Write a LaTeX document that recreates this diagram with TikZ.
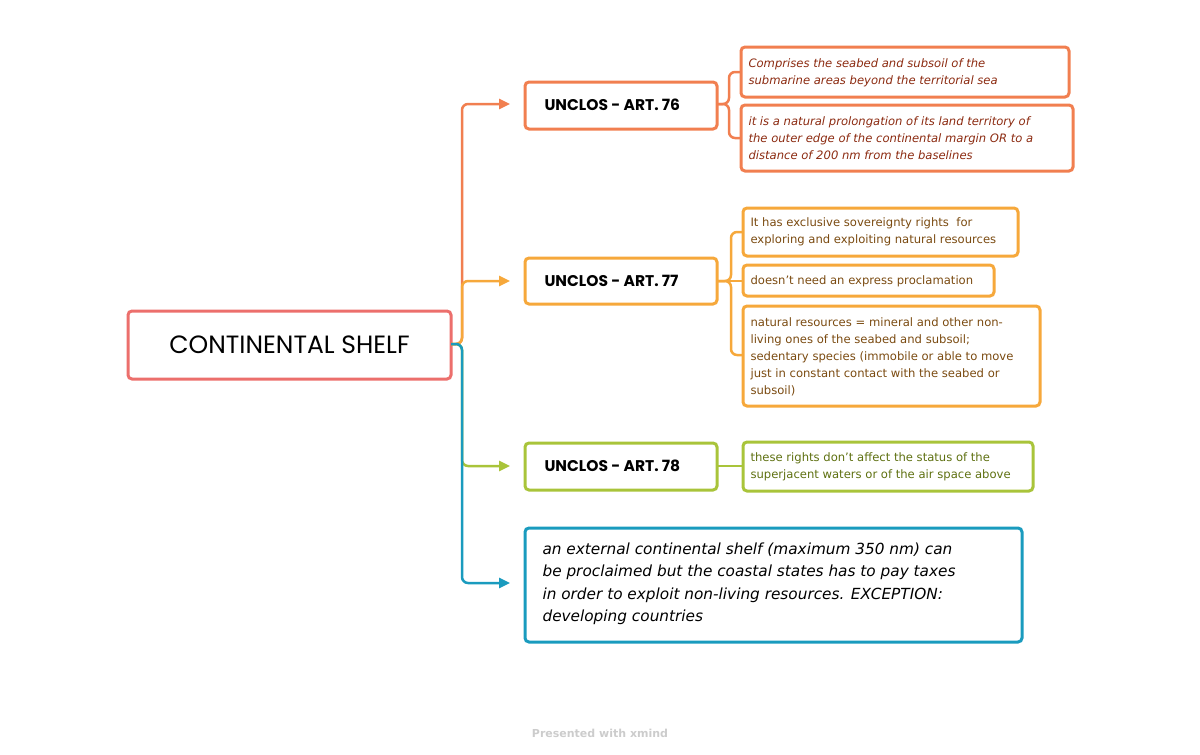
\documentclass[tikz,border=0pt]{standalone}
\usepackage{fontspec}
\setmainfont{DejaVu Sans}
\newfontfamily\headf{Poppins}
\usetikzlibrary{arrows.meta}
\definecolor{cR}{HTML}{EC6F6C}
\definecolor{cO}{HTML}{F17F50}
\definecolor{cY}{HTML}{F6A83B}
\definecolor{cG}{HTML}{A9C43A}
\definecolor{cB}{HTML}{1A9BBE}
\definecolor{tR}{HTML}{8B2A10}
\definecolor{tY}{HTML}{7A4A10}
\definecolor{tG}{HTML}{5E7010}
\tikzset{
 bx/.style={draw,line width=3pt,rounded corners=4pt,inner sep=0pt},
 lab/.style={anchor=north west,align=left,font=\fontsize{11.6}{17}\selectfont},
 ln/.style={line width=2.5pt,rounded corners=6pt,-{Triangle[length=11pt,width=10pt]}},
 sl/.style={line width=2.5pt,rounded corners=6pt},
 hd/.style={anchor=west,font=\headf\bfseries\fontsize{15.5}{17}\selectfont}
}
\begin{document}
\begin{tikzpicture}[x=1pt,y=-1pt]
\useasboundingbox (0,0) rectangle (1200,755);
% boxes
\draw[bx,cR] (128,311) rectangle (451,379);
\node (root) at (289.5,345) {\headf\fontsize{25}{28}\selectfont CONTINENTAL SHELF};
\coordinate (rootE) at (451,344);
\draw[bx,cO] (525,82) rectangle (717,129);
\node[hd] (a76) at (541,105) {UNCLOS - ART. 76};
\draw[bx,cY] (525,258) rectangle (717,304);
\node[hd] (a77) at (541,281) {UNCLOS - ART. 77};
\draw[bx,cG] (525,443) rectangle (717,490);
\node[hd] (a78) at (541,466) {UNCLOS - ART. 78};
\draw[bx,cB] (525,528) rectangle (1022,642);
\node[anchor=north west,align=left,font=\itshape\fontsize{15.3}{22.5}\selectfont] (ext) at (539,539) {an external continental shelf (maximum 350 nm) can\\be proclaimed but the coastal states has to pay taxes\\in order to exploit non-living resources. EXCEPTION:\\developing countries};
% 76 children
\draw[bx,cO] (741,47) rectangle (1069,97);
\node[lab,text=tR,font=\itshape\fontsize{11.6}{17}\selectfont] (c1) at (745,55) {Comprises the seabed and subsoil of the\\submarine areas beyond the territorial sea};
\draw[bx,cO] (741,105) rectangle (1073,171);
\node[lab,text=tR,font=\itshape\fontsize{11.6}{17}\selectfont] (c2) at (745,113) {it is a natural prolongation of its land territory of\\the outer edge of the continental margin OR to a\\distance of 200 nm from the baselines};
% 77 children
\draw[bx,cY] (743,208) rectangle (1018,256);
\node[lab,text=tY] (c3) at (747,214) {It has exclusive sovereignty rights~ for\\exploring and exploiting natural resources};
\draw[bx,cY] (743,265) rectangle (994,296);
\node[lab,text=tY] (c4) at (747,272) {doesn't need an express proclamation};
\draw[bx,cY] (743,306) rectangle (1040,406);
\node[lab,text=tY] (c5) at (747,314) {natural resources = mineral and other non-\\living ones of the seabed and subsoil;\\sedentary species (immobile or able to move\\just in constant contact with the seabed or\\subsoil)};
% 78 child
\draw[bx,cG] (743,442) rectangle (1033,491);
\node[lab,text=tG] (c6) at (747,449) {these rights don't affect the status of the\\superjacent waters or of the air space above};
% connectors
\draw[ln,cO] (rootE) -- (462,344) -- (462,104) -- (510,104);
\draw[ln,cY] (rootE) -- (462,344) -- (462,281) -- (510,281);
\draw[ln,cG] (rootE) -- (462,344) -- (462,466) -- (510,466);
\draw[ln,cB] (rootE) -- (462,344) -- (462,583) -- (510,583);
\draw[sl,cO] (717,104) -- (729,104) -- (729,72) -- (741,72);
\draw[sl,cO] (717,104) -- (729,104) -- (729,138) -- (741,138);
\draw[sl,cY] (717,281) -- (731,281) -- (731,232) -- (743,232);
\draw[sl,cY] (717,281) -- (743,281);
\draw[sl,cY] (717,281) -- (731,281) -- (731,355) -- (743,355);
\draw[sl,cG] (717,466) -- (743,466);
\node[text=black!20,font=\bfseries\fontsize{11}{12}\selectfont] (ft) at (600,733) {Presented with xmind};
\end{tikzpicture}
\end{document}
